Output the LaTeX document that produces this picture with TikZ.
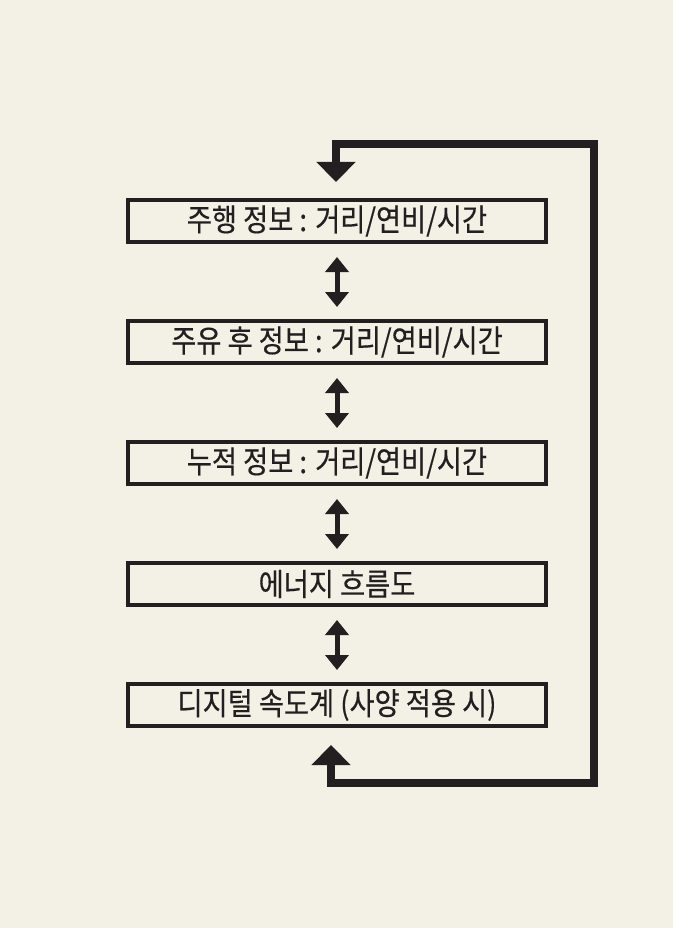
\documentclass[tikz,border=0pt]{standalone}
\usepackage{fontspec}
\setmainfont{Noto Sans CJK KR}[FakeStretch=0.88,FakeBold=0.4]
\usepackage{tikz}
\usetikzlibrary{arrows.meta}
\usetikzlibrary {positioning}
\usetikzlibrary{chains}
\definecolor{paper}{HTML}{F3F0E5}
\definecolor{ink}{HTML}{231F20}

\begin{document}
\begin{tikzpicture}[x=1pt,y=-1pt,
            node distance = 75pt,
            start chain = going below,
            box/.style = {draw=ink,line width=4pt,minimum width=418pt,
                minimum height=42pt,inner sep=0pt,text=ink,
                font=\fontsize{31pt}{34pt}\selectfont,on chain,align=center},
            swap/.style = {{Triangle[width=23pt,length=15pt]}-{Triangle[width=23pt,length=15pt]},
                draw=ink,line width=5pt,shorten <=13pt,shorten >=12pt},
            loopline/.style = {{Triangle[width=38pt,length=20pt]}-{Triangle[width=38pt,length=20pt]},
                draw=ink,line width=8pt,shorten <=17pt,shorten >=16pt}]
            \fill[paper] (0,0) rectangle (673,928);
            \useasboundingbox (0,0) rectangle (673,928);
            \node[box](b1) at (337,221) {주행 정보 : 거리/연비/시간};
            \node[box](b2) {주유 후 정보 : 거리/연비/시간};
            \node[box](b3) {누적 정보 : 거리/연비/시간};
            \node[box](b4) {에너지 흐름도};
            \node[box](b5) {디지털 속도계 (사양 적용 시)};
            \path[]
                (b1) edge[swap] (b2)
                (b2) edge[swap] (b3)
                (b3) edge[swap] (b4)
                (b4) edge[swap] (b5);
            % return line on the right
            \coordinate (tr) at (594,144);
            \coordinate (br) at (594,783);
            \draw[loopline] ([xshift=-6pt]b5.south) |- (br) -- (tr) -| ([xshift=-1pt]b1.north);
        \end{tikzpicture}
\end{document}
